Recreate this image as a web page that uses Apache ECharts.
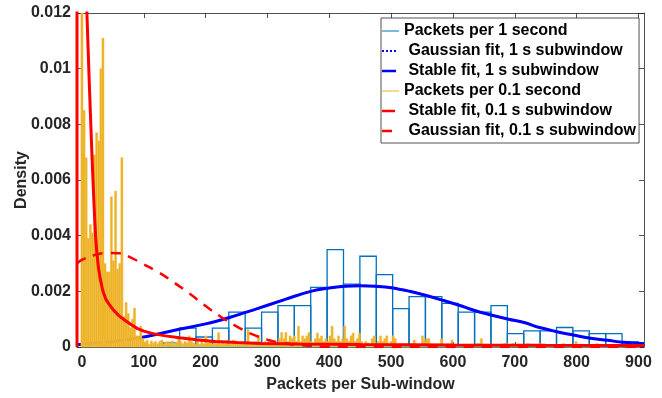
<!DOCTYPE html>
<html><head><meta charset="utf-8">
<script src="https://cdn.jsdelivr.net/npm/echarts@6/dist/echarts.min.js"></script>
<style>html,body{margin:0;padding:0;background:#fff}#c{width:662px;height:398px}</style>
</head><body><div id="c"></div>
<script>
// ---- tick labels ----
const xTicks = [0, 100, 200, 300, 400, 500, 600, 700, 800, 900];
const yTicks = [0, 0.002, 0.004, 0.006, 0.008, 0.010, 0.012];
const yTickLabels = ['0', '0.002', '0.004', '0.006', '0.008', '0.01', '0.012'];

// ---- histogram: packets per 1 second (bin edges start + width, densities) ----
const blueBinStart = 131.5;
const blueBinWidth = 26.5;
const blueDensity = [0.00015, 0.00068, 0.00036, 0.00068, 0.00125, 0.00068, 0.00125, 0.00149, 0.00149, 0.00214,
  0.00350, 0.00226, 0.00326, 0.00260, 0.00138, 0.00181, 0.00181, 0.00157, 0.00125, 0.00125,
  0.00149, 0.00048, 0.00058, 0.00058, 0.00070, 0.00058, 0.00048, 0.00048, 0.00018];

// ---- histogram: packets per 0.1 second ----
const orangeBinStart = -1.7;
const orangeBinWidth = 3.4;
const orangeDensity = [
  0.0125, 0.0085, 0.0068, 0.0039, 0.0044, 0.0041, 0.0069, 0.0077, 0.0074, 0.0100,
  0.0111, 0.0030, 0.0027, 0.0027, 0.0054, 0.0031, 0.0056, 0.0028, 0.0030, 0.0068,
  0.0011, 0.0016, 0.0012, 0.0007, 0.0010, 0.0014, 0.0004, 0.0004, 0.00075, 0.0003,
  0.00018, 0.00025, 0.0001, 0.00022, 0.00015, 0.0002, 0.00012, 0.0002, 0.00025, 0.0001,
  0.00018, 0.0002, 0.00012, 0.00022, 0.0001, 0.00018, 0.00036, 0.0002, 0.00012, 0.0002,
  0.00015, 0.0004, 0.0002, 0.00015, 0.0001, 0.00025, 0.0001, 0.0002, 0.00012, 0.0004,
  0.00015, 0.0002, 0.0001, 0.00018, 0.00012, 0.00052, 0.0001, 0.00018, 0.0001, 0.00025,
  0.0002, 0.0001, 0.00025, 0.00012, 0.0002, 0.0001, 0.00015, 0.0001, 0.0002, 0.00063,
  0.0001, 0.00018, 0.00012, 0.0002, 0.00042, 0.00015, 0.0001, 0.0002, 0.00012, 0.0002,
  0.00015, 0.0001, 0.0002, 0.0001, 0.0003, 0.00052, 0.0003, 0.00052, 0.0002, 0.0004,
  0.0003, 0.0004, 0.0002, 0.00075, 0.0002, 0.0004, 0.0003, 0.0004, 0.00052, 0.0002,
  0.00015, 0.0003, 0.0005, 0.0003, 0.0004, 0.0002, 0.0003, 0.0002, 0.0004, 0.00075,
  0.0003, 0.0002, 0.0004, 0.0002, 0.0003, 0.00075, 0.0003, 0.0002, 0.0004, 0.0005,
  0.0002, 0.0003, 0.0005, 0.0002, 0.0001, 0.0002, 0.00015, 0.0001, 0.0003, 0.0004,
  0.0001, 0.0002, 0.0004, 0.0002, 0.0003, 0.0004, 0.0001, 0.0002, 0.0004, 0.0003,
  0.0001, 0.00005, 0.0001, 0, 0.00008, 0, 0.0001, 0, 0.00025, 0.0001,
  0, 0.0001, 0.0004, 0.0002, 0.0003, 0.0003, 0.0001, 0, 0.0001, 0,
  0.0001, 0.0003, 0.0001, 0, 0.0001, 0, 0.00025, 0, 0.0001, 0,
  0.00008, 0, 0.0001, 0, 0.0001, 0, 0.0001, 0, 0.00013, 0.00013,
  0.0003, 0.0001, 0, 0.0001, 0, 0.0001, 0, 0.0001, 0, 0.00008,
  0, 0.00013, 0.00013, 0, 0, 0.00013, 0.0001, 0, 0, 0.00008,
  0, 0, 0.00013, 0.0001, 0, 0, 0.00008, 0, 0.00013, 0,
  0, 0, 0, 0, 0, 0.0001, 0, 0, 0, 0.00013,
  0.0001, 0, 0, 0, 0, 0.0002, 0, 0, 0, 0,
  0.0001, 0, 0, 0, 0.0001, 0.00013, 0, 0, 0, 0,
  0.0001, 0, 0, 0, 0, 0.00008, 0, 0, 0.0001, 0,
  0, 0, 0.0001, 0, 0, 0];

// ---- fitted curves [x, density] ----
const blueStableFit = [[-8, 0.00008], [0, 0.0001], [50, 0.0002], [100, 0.00036], [150, 0.0006], [200, 0.00083],
  [240, 0.00107], [280, 0.00135], [330, 0.00172], [370, 0.002], [400, 0.00212], [425, 0.00218], [450, 0.0022],
  [475, 0.00218], [500, 0.00213], [530, 0.002], [560, 0.00183], [585, 0.00167], [610, 0.0015], [635, 0.00131],
  [660, 0.00116], [690, 0.001], [715, 0.00088], [740, 0.0007], [770, 0.00054], [795, 0.00043], [820, 0.00032],
  [850, 0.00024], [875, 0.00017], [909, 0.00012]];
const blueGaussFit = [[-8, 0.00008], [0, 0.0001], [50, 0.0002], [100, 0.00036], [150, 0.0006], [200, 0.00083],
  [240, 0.00107], [280, 0.00135], [330, 0.00172], [370, 0.002], [400, 0.00212], [425, 0.00218], [450, 0.0022],
  [475, 0.00218], [500, 0.00213], [530, 0.002], [560, 0.00183], [585, 0.00167], [610, 0.0015], [635, 0.00131],
  [660, 0.00116], [690, 0.001], [715, 0.00088], [740, 0.0007], [770, 0.00054], [795, 0.00043], [820, 0.00032],
  [850, 0.00024], [875, 0.00017], [909, 0.00012]];
const redStableFit = [[-8, 0], [-8, 0.03], [2, 0.03], [8, 0.012], [10, 0.0107], [12, 0.0094], [14, 0.0082],
  [16, 0.007], [18, 0.0059], [20, 0.0049], [22, 0.004], [24, 0.0034], [27, 0.0028], [30, 0.0024], [34, 0.002],
  [39, 0.0017], [45, 0.0015], [52, 0.0013], [60, 0.00112], [70, 0.00095], [80, 0.0008], [90, 0.00066],
  [100, 0.00057], [115, 0.00048], [135, 0.0004], [158, 0.00033], [185, 0.00026], [215, 0.0002], [250, 0.00016],
  [290, 0.00013], [350, 0.00011], [450, 0.00009], [600, 0.00007], [750, 0.00006], [909, 0.00005]];
const redGaussFit = [[-8, 0.003], [0, 0.00313], [20, 0.0033], [40, 0.00338], [60, 0.00337], [80, 0.0032],
  [100, 0.00297], [125, 0.00267], [150, 0.0023], [175, 0.0019], [200, 0.00147], [225, 0.00108], [250, 0.00074],
  [275, 0.00046], [300, 0.00026], [325, 0.00014], [350, 0.00007], [400, 0.00001], [500, 0], [909, 0]];

const seriesNames = ['Packets per 1 second', 'Gaussian fit, 1 s subwindow', 'Stable fit, 1 s subwindow',
  'Packets per 0.1 second', 'Stable fit, 0.1 s subwindow', 'Gaussian fit, 0.1 s subwindow'];

function binsToData(start, width, values) {
  return values.map((v, i) => [start + i * width, start + (i + 1) * width, v]);
}

function histRenderer(style) {
  return function (params, api) {
    const p0 = api.coord([api.value(0), api.value(2)]);
    const p1 = api.coord([api.value(1), 0]);
    const cs = params.coordSys;
    const shape = echarts.graphic.clipRectByRect(
      { x: p0[0], y: p0[1], width: p1[0] - p0[0], height: p1[1] - p0[1] },
      { x: cs.x, y: cs.y, width: cs.width, height: cs.height });
    if (!shape) return null;
    return { type: 'rect', shape: shape, style: style };
  };
}

const FONT = "'Liberation Sans', Arial, Helvetica, sans-serif";
const TXT = '#262626';

function box(inner) { return 'path://M0,0h0.01v0.01h-0.01z ' + inner + ' M16.99,13.99h0.01v0.01h-0.01z'; }

const chart = echarts.init(document.getElementById('c'), null, { renderer: 'canvas' });
const axisCommon = {
  axisLine: { show: true, onZero: false, lineStyle: { color: TXT, width: 0.8 } },
  splitLine: { show: false }
};
chart.setOption({
  animation: false,
  backgroundColor: '#fff',
  grid: { left: 77, right: 18, top: 13, bottom: 47, containLabel: false },
  xAxis: [
    Object.assign({}, axisCommon, {
      type: 'value', min: -8, max: 909, position: 'bottom',
      axisTick: { show: true, inside: true, length: 5, customValues: xTicks, lineStyle: { color: TXT, width: 0.8 } },
      axisLabel: { customValues: xTicks, fontSize: 16, fontWeight: 'bold', color: TXT, fontFamily: FONT, margin: 8 },
      name: 'Packets per Sub-window', nameLocation: 'middle', nameGap: 30, nameMoveOverlap: false,
      nameTextStyle: { fontSize: 16, fontWeight: 'bold', color: TXT, fontFamily: FONT }
    }),
    Object.assign({}, axisCommon, {
      type: 'value', min: -8, max: 909, position: 'top',
      axisTick: { show: true, inside: true, length: 5, customValues: xTicks, lineStyle: { color: TXT, width: 0.8 } },
      axisLabel: { show: false }
    })
  ],
  yAxis: [
    Object.assign({}, axisCommon, {
      type: 'value', min: 0, max: 0.012, position: 'left',
      axisTick: { show: true, inside: true, length: 5, customValues: yTicks, lineStyle: { color: TXT, width: 0.8 } },
      axisLabel: {
        customValues: yTicks, fontSize: 16, fontWeight: 'bold', color: TXT, fontFamily: FONT, margin: 6,
        formatter: v => { const i = yTicks.findIndex(t => Math.abs(t - v) < 1e-9); return i >= 0 ? yTickLabels[i] : ''; }
      },
      name: 'Density', nameLocation: 'middle', nameGap: 47, nameMoveOverlap: false,
      nameTextStyle: { fontSize: 16, fontWeight: 'bold', color: TXT, fontFamily: FONT }
    }),
    Object.assign({}, axisCommon, {
      type: 'value', min: 0, max: 0.012, position: 'right',
      axisTick: { show: true, inside: true, length: 5, customValues: yTicks, lineStyle: { color: TXT, width: 0.8 } },
      axisLabel: { show: false }
    })
  ],
  legend: {
    left: 381, top: 18, orient: 'vertical',
    itemWidth: 17, itemHeight: 14, itemGap: 4,
    padding: [5, 3, 4, 1],
    borderColor: TXT, borderWidth: 0.8, backgroundColor: '#fff',
    selectedMode: false,
    textStyle: { fontSize: 16, fontWeight: 'bold', color: '#000', fontFamily: FONT },
    formatter: name => (name.indexOf('fit') >= 0 ? ' ' : '') + name,
    data: [
      { name: seriesNames[0], icon: box('M0,6.5h17v1h-17z'), itemStyle: { color: '#0072BD', borderWidth: 0 } },
      { name: seriesNames[1], icon: box('M0,6h2v2h-2z M4,6h2v2h-2z M8,6h2v2h-2z M12,6h2v2h-2z'), itemStyle: { color: '#0000FF', borderWidth: 0 } },
      { name: seriesNames[2], icon: box('M0,5.8h14v2.4h-14z'), itemStyle: { color: '#0000FF', borderWidth: 0 } },
      { name: seriesNames[3], icon: box('M0,6.5h17v1h-17z'), itemStyle: { color: '#EDB120', borderWidth: 0 } },
      { name: seriesNames[4], icon: box('M0,5.8h13v2.4h-13z'), itemStyle: { color: '#FF0000', borderWidth: 0 } },
      { name: seriesNames[5], icon: box('M0,5.8h10v2.4h-10z'), itemStyle: { color: '#FF0000', borderWidth: 0 } }
    ]
  },
  series: [
    {
      name: seriesNames[0], type: 'custom', xAxisIndex: 0, yAxisIndex: 0,
      renderItem: histRenderer({ fill: 'rgba(0,0,0,0)', stroke: '#0072BD', lineWidth: 1.3 }),
      encode: { x: [0, 1], y: 2 }, data: binsToData(blueBinStart, blueBinWidth, blueDensity),
      itemStyle: { color: '#0072BD' }, z: 2
    },
    {
      name: seriesNames[1], type: 'line', data: blueGaussFit, symbol: 'none', smooth: 0.4,
      lineStyle: { color: '#0000FF', width: 2, type: [2, 3] }, itemStyle: { color: '#0000FF' }, z: 3
    },
    {
      name: seriesNames[2], type: 'line', data: blueStableFit, symbol: 'none', smooth: 0.4,
      lineStyle: { color: '#0000FF', width: 3 }, itemStyle: { color: '#0000FF' }, z: 3
    },
    {
      name: seriesNames[3], type: 'custom', xAxisIndex: 0, yAxisIndex: 0,
      renderItem: histRenderer({ fill: '#EDB120', stroke: '#F0BE48', lineWidth: 0.5 }),
      encode: { x: [0, 1], y: 2 }, data: binsToData(orangeBinStart, orangeBinWidth, orangeDensity),
      itemStyle: { color: '#EDB120' }, z: 4
    },
    {
      name: seriesNames[4], type: 'line', data: redStableFit, symbol: 'none', smooth: false,
      lineStyle: { color: '#FF0000', width: 3 }, itemStyle: { color: '#FF0000' }, z: 5
    },
    {
      name: seriesNames[5], type: 'line', data: redGaussFit, symbol: 'none', smooth: 0.4,
      lineStyle: { color: '#FF0000', width: 2.5, type: [10, 8] }, itemStyle: { color: '#FF0000' }, z: 5
    }
  ]
});
</script>
</body></html>
